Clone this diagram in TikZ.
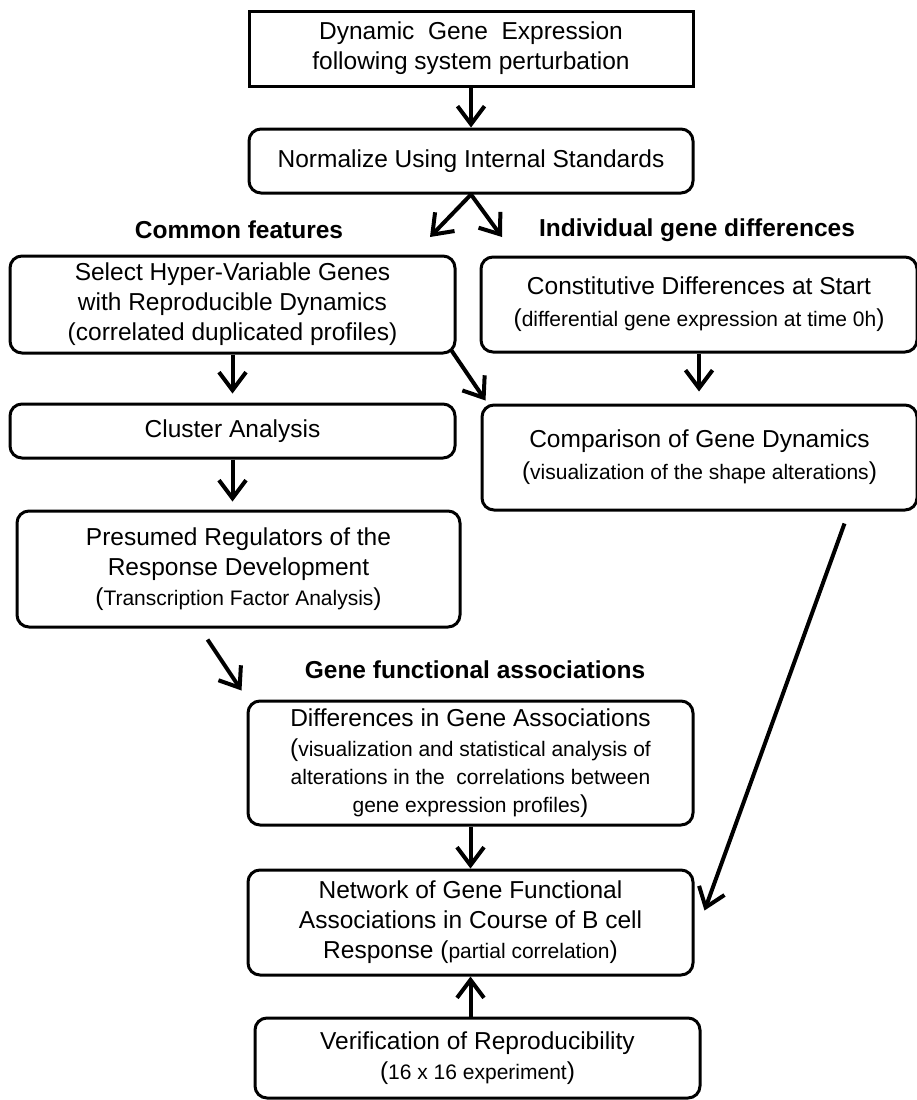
\documentclass[tikz,border=0pt]{standalone}
\usepackage{fontspec}
\setmainfont{Liberation Sans}
\usetikzlibrary{arrows.meta}
\newcommand\mainsize{\fontsize{24.5}{30}\selectfont}
\newcommand\subsize{\fontsize{21}{30}\selectfont}
\newcommand\parnote[1]{{\mainsize(}{\subsize#1}{\mainsize)}}
\begin{document}
\begin{tikzpicture}[x=1pt,y=-1pt,
    box/.style={draw,line width=3pt,rounded corners=12pt,align=center,inner sep=0pt,font=\mainsize},
    head/.style={font=\mainsize\bfseries},
    arr/.style={line width=4pt,-{Straight Barb[length=18pt,width=27pt]}}]
  \useasboundingbox (0,0) rectangle (917,1100);
  \node[box,sharp corners,minimum width=444,minimum height=75](dyn) at (471,48.5){Dynamic\ \ Gene\ \ Expression\\following system perturbation};
  \node[box,minimum width=444,minimum height=64](norm) at (471,161){Normalize Using Internal Standards};
  \node[head](cfl) at (239,230){Common features};
  \node[head](igl) at (697,230){Individual gene differences};
  \node[box,minimum width=445,minimum height=97](sel) at (232.5,304.5){Select Hyper-Variable Genes\\with Reproducible Dynamics\\(correlated duplicated profiles)};
  \node[box,minimum width=436,minimum height=95](cons) at (699,304.5){Constitutive Differences at Start\\[2pt]\parnote{differential gene expression at time 0h}};
  \node[box,minimum width=445,minimum height=54](clus) at (232.5,431){Cluster Analysis};
  \node[box,minimum width=435,minimum height=105](comp) at (699.5,457.5){Comparison of Gene Dynamics\\[2pt]\parnote{visualization of the shape alterations}};
  \node[box,minimum width=443,minimum height=116](pres) at (238.5,569){Presumed Regulators of the\\Response Development\\\parnote{Transcription Factor Analysis}};
  \node[head](gfl) at (475,670){Gene functional associations};
  \node[box,minimum width=445,minimum height=124](diff) at (470.5,763){Differences in Gene Associations\\{\mainsize(}{\subsize visualization and statistical analysis of}\\[-2pt]{\subsize alterations in the\ \ correlations between}\\[-2pt]{\subsize gene expression profiles}{\mainsize)}};
  \node[box,minimum width=445,minimum height=105](net) at (470.5,922.5){Network of Gene Functional\\Associations in Course of B cell\\Response \parnote{partial correlation}};
  \node[box,minimum width=445,minimum height=80](ver) at (477.5,1058){Verification of Reproducibility\\\parnote{16 x 16 experiment}};
  \coordinate(cf) at (430,237);
  \coordinate(ig) at (502,237);
  \draw[arr](dyn)--(norm);
  \draw[arr](norm.south)--(cf);
  \draw[arr](norm.south)--(ig);
  \draw[arr,shorten >=9pt](sel)--(clus);
  \draw[arr,shorten >=8pt](clus.south)--(clus.south|-pres.north);
  \draw[arr,shorten >=12pt](cons.south)--(cons.south|-comp.north);
  \draw[arr]([shift={(-5,-4)}]sel.south east)--([shift={(5,-3)}]comp.north west);
  \draw[arr]([shift={(145,12)}]comp.south)--([shift={(10,-12)}]net.east);
  \draw[arr]([shift={(-31,11)}]pres.south)--([shift={(-5,-9)}]diff.north west);
  \draw[arr](diff)--(net);
  \draw[arr](net.south|-ver.north)--(net.south);
\end{tikzpicture}
\end{document}
